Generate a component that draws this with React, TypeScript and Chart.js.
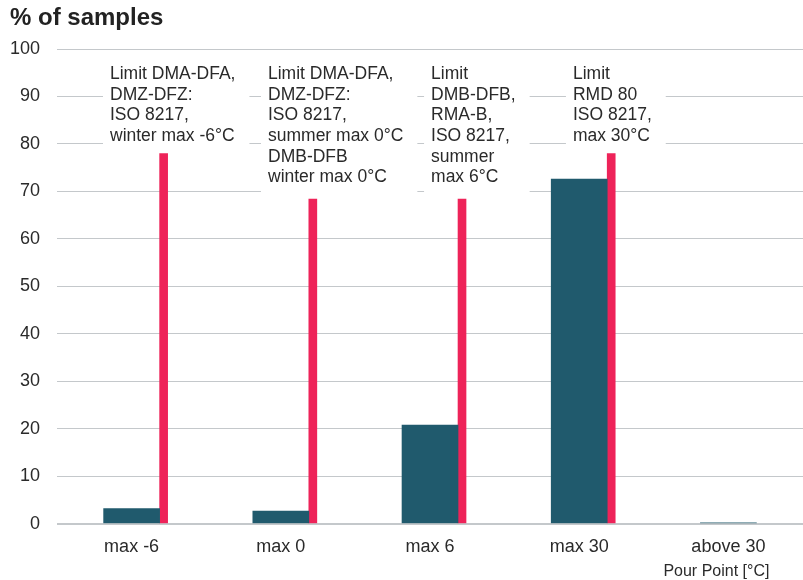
import React, { useEffect, useRef } from "react";
import { Chart, registerables } from "chart.js";

Chart.register(...registerables);

const CATEGORIES = ["max -6", "max 0", "max 6", "max 30", "above 30"];
const SAMPLE_SHARE = [3.2, 2.7, 20.8, 72.6, 0.2];
const LIMIT_VALUES = [78, 68.4, 68.4, 78, null];
const Y_TICKS = [0, 10, 20, 30, 40, 50, 60, 70, 80, 90, 100];

const ANNOTATION_LINES = [
  ["Limit DMA-DFA,", "DMZ-DFZ:", "ISO 8217,", "winter max -6°C"],
  ["Limit DMA-DFA,", "DMZ-DFZ:", "ISO 8217,", "summer max 0°C", "DMB-DFB", "winter max 0°C"],
  ["Limit", "DMB-DFB,", "RMA-B,", "ISO 8217,", "summer", "max 6°C"],
  ["Limit", "RMD 80", "ISO 8217,", "max 30°C"],
];
// anchors (x in category units, y in % units) for the first text line of each note
const ANNOTATION_X = [-0.145, 0.914, 2.007, 2.958];
const ANNOTATION_Y = 94.7;

const TITLE = "% of samples";
const X_TITLE = "Pour Point [°C]";

const LIMIT_SHIFT = 0.2145;
const TEAL = "#205a6d";
const PINK = "#ee2359";
const GRID = "#c4c8cb";
const TEXT = "#2a2a2a";
const FONT = "'Liberation Sans', Arial, Helvetica, sans-serif";
const Y_PAD = 17;
const X_PAD = 12.2;

const notesPlugin = {
  id: "notes",
  beforeDatasetsDraw(chart: any) {
    const { ctx, scales } = chart;
    const xs = scales.x;
    const ys = scales.y;
    const lineH = 20.7;
    ctx.save();
    ctx.font = `17.5px ${FONT}`;
    ctx.textBaseline = "middle";
    ctx.textAlign = "left";
    ANNOTATION_LINES.forEach((lines, i) => {
      const x = xs.getPixelForValue(ANNOTATION_X[i]);
      const y0 = ys.getPixelForValue(ANNOTATION_Y);
      const w = Math.max(...lines.map((l) => ctx.measureText(l).width));
      const top = y0 - 14;
      const bottom = y0 + (lines.length - 1) * lineH + 16;
      ctx.fillStyle = "#ffffff";
      ctx.fillRect(x - 7, top, w + 21, bottom - top);
      ctx.fillStyle = TEXT;
      lines.forEach((l, k) => ctx.fillText(l, x, y0 + k * lineH));
    });
    ctx.restore();
  },
  afterDraw(chart: any) {
    const { ctx } = chart;
    ctx.save();
    ctx.font = `16px ${FONT}`;
    ctx.fillStyle = TEXT;
    ctx.textAlign = "right";
    ctx.textBaseline = "middle";
    const xs = chart.scales.x;
    ctx.fillText(X_TITLE, xs.getPixelForValue(4) + 41, 572);
    ctx.restore();
  },
};

export default function App() {
  const ref = useRef<HTMLCanvasElement | null>(null);
  useEffect(() => {
    if (!ref.current) return;
    Chart.defaults.font.family = FONT;
    const chart = new Chart(ref.current, {
      type: "bar",
      data: {
        datasets: [
          {
            label: "Samples",
            data: SAMPLE_SHARE.map((v, i) => ({ x: i, y: v })),
            backgroundColor: TEAL,
            barThickness: 56,
            grouped: false,
          },
          {
            label: "Limit",
            data: LIMIT_VALUES.map((v, i) => ({ x: i + LIMIT_SHIFT, y: v })),
            backgroundColor: PINK,
            barThickness: 8,
            grouped: false,
          },
        ] as any,
      },
      options: {
        responsive: false,
        animation: false,
        devicePixelRatio: 1,
        layout: { padding: { left: 10, right: 0, top: 0, bottom: 22.4 } },
        plugins: {
          legend: { display: false },
          tooltip: { enabled: false },
          title: {
            display: true,
            text: TITLE,
            align: "start",
            color: "#222",
            font: { size: 24, weight: "bold", family: FONT, lineHeight: 1.2 },
            padding: { top: 4, bottom: 16.2 },
          },
        },
        scales: {
          x: {
            type: "linear",
            min: -0.5,
            max: 4.5,
            offset: false,
            grid: { display: false, drawTicks: false },
            border: { display: false },
            afterBuildTicks: (axis: any) => {
              axis.ticks = CATEGORIES.map((_, i) => ({ value: i }));
            },
            afterFit: (axis: any) => {
              axis.height -= X_PAD;
            },
            ticks: {
              autoSkip: false,
              maxRotation: 0,
              padding: X_PAD,
              color: TEXT,
              font: { size: 18, family: FONT, lineHeight: 1.2 },
              callback: (v: any) => CATEGORIES[v] ?? "",
            },
          },
          y: {
            min: 0,
            max: 100,
            afterBuildTicks: (axis: any) => {
              axis.ticks = Y_TICKS.map((v) => ({ value: v }));
            },
            afterFit: (axis: any) => {
              axis.width -= Y_PAD;
            },
            grid: {
              color: GRID,
              lineWidth: (c: any) => (c.tick && c.tick.value === 0 ? 2 : 1),
              drawTicks: false,
            },
            border: { display: false },
            ticks: {
              padding: Y_PAD,
              color: TEXT,
              font: { size: 18, family: FONT, lineHeight: 1.2 },
            },
          },
        },
      } as any,
      plugins: [notesPlugin],
    });
    return () => chart.destroy();
  }, []);
  return (
    <div style={{ position: "absolute", left: 0, top: 0, width: 803, height: 580, background: "#fff" }}>
      <canvas ref={ref} width={803} height={580} style={{ display: "block" }} />
    </div>
  );
}
